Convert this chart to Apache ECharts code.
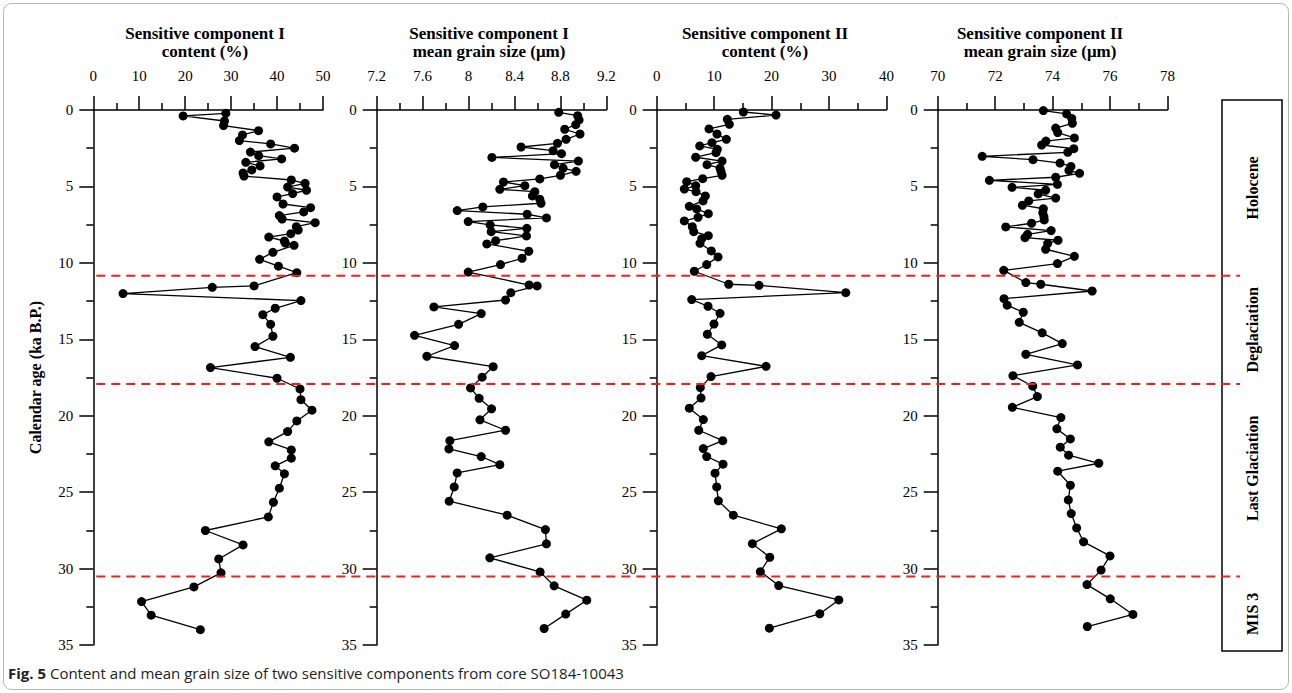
<!DOCTYPE html>
<html><head><meta charset="utf-8">
<script src="https://cdn.jsdelivr.net/npm/echarts@6/dist/echarts.min.js"></script>
<style>html,body{margin:0;padding:0;background:#fff}#c{width:1292px;height:693px}</style>
</head><body><div id="c"></div>
<script>
// ---- data (age in ka B.P., value) ----
const ages1=[0.22,0.39,0.72,1.02,1.35,1.63,2.0,2.22,2.5,2.75,2.99,3.2,3.42,3.66,3.92,4.12,4.32,4.58,4.8,5.04,5.25,5.47,5.69,6.15,6.39,6.67,6.91,7.13,7.37,7.63,7.85,8.09,8.31,8.57,8.7,8.85,9.31,9.77,10.22,10.64,11.51,11.6,12.01,12.47,12.97,13.39,14.02,14.8,15.48,16.18,16.85,17.55,18.25,18.95,19.64,20.34,21.04,21.71,22.24,22.78,23.28,23.8,24.74,25.66,26.62,27.51,28.45,29.37,30.28,31.2,32.16,33.05,34.0];
const vals1=[28.85,19.55,28.56,28.35,35.97,32.48,31.8,38.6,43.8,34.2,36.0,41.0,33.2,36.3,34.5,32.6,32.8,43.1,46.1,42.3,46.4,43.4,40.0,41.3,47.3,45.8,40.5,41.1,48.3,44.2,44.6,43.0,38.2,41.6,41.8,43.7,39.1,36.2,40.3,44.3,35.0,25.9,6.47,45.2,39.6,36.9,38.6,39.1,35.2,42.9,25.5,40.0,45.0,45.2,47.6,44.3,42.3,38.2,43.1,43.1,39.6,41.6,40.5,39.2,38.1,24.4,32.6,27.3,27.8,21.9,10.5,12.6,23.3];

const ages2=[0.15,0.37,0.65,0.96,1.26,1.57,1.92,2.18,2.42,2.66,2.86,3.1,3.34,3.58,3.81,4.01,4.27,4.51,4.71,4.95,5.19,5.34,5.62,5.84,6.1,6.34,6.58,6.82,7.06,7.3,7.52,7.74,7.96,8.24,8.55,8.76,9.24,9.7,10.11,10.6,11.45,11.51,11.95,12.43,12.88,13.32,14.02,14.74,15.41,16.11,16.79,17.48,18.18,18.86,19.55,20.27,20.95,21.63,22.17,22.67,23.2,23.74,24.66,25.59,26.51,27.45,28.38,29.3,30.22,31.13,32.07,32.98,33.92];
const vals2=[8.785,8.95,8.962,8.933,8.837,8.97,8.849,8.774,8.457,8.736,8.809,8.203,8.956,8.748,8.823,8.936,8.8,8.62,8.304,8.49,8.272,8.577,8.556,8.62,8.631,8.124,7.901,8.51,8.678,7.997,8.188,8.507,8.197,8.504,8.236,8.159,8.524,8.466,8.278,7.997,8.527,8.597,8.368,8.322,7.698,8.11,7.913,7.53,7.878,7.637,8.214,8.118,8.017,8.092,8.2,8.099,8.322,7.837,7.829,8.11,8.272,7.901,7.875,7.831,8.336,8.669,8.678,8.185,8.623,8.745,9.029,8.846,8.658];

const ages3=[0.13,0.33,0.61,0.94,1.24,1.57,1.92,2.14,2.35,2.57,2.79,3.09,3.34,3.58,3.81,4.03,4.27,4.49,4.69,4.95,5.17,5.34,5.62,5.95,6.3,6.47,6.78,7.02,7.26,7.63,7.96,8.22,8.42,8.72,9.22,9.61,10.11,10.55,11.4,11.47,11.95,12.4,12.84,13.3,14.0,14.67,15.37,16.07,16.77,17.44,18.16,18.84,19.51,20.25,20.95,21.63,22.15,22.67,23.17,23.76,24.66,25.57,26.51,27.4,28.37,29.26,30.2,31.11,32.05,32.96,33.9];
const vals3=[15.09,20.78,12.3,12.65,9.11,10.5,12.13,9.63,7.49,10.56,10.33,6.79,11.38,8.76,11.03,11.2,11.38,8.01,5.23,6.79,4.81,6.85,8.47,8.07,5.68,6.97,8.99,7.2,4.81,6.2,6.45,8.99,7.84,7.54,9.51,10.68,8.71,6.55,12.54,17.82,32.93,6.1,8.94,11.03,9.98,8.82,11.32,7.84,19.04,9.46,7.6,7.72,5.68,8.12,7.32,11.5,8.12,8.71,11.55,10.16,10.45,10.74,13.35,21.71,16.66,19.69,18.05,21.25,31.71,28.4,19.62];

const ages4=[0.04,0.26,0.55,0.87,1.18,1.48,1.83,2.03,2.29,2.53,2.77,3.03,3.25,3.47,3.69,3.95,4.14,4.4,4.6,4.86,5.06,5.25,5.49,5.76,5.95,6.23,6.46,6.72,6.98,7.19,7.41,7.65,7.89,8.13,8.35,8.52,8.74,9.11,9.57,10.05,10.49,11.29,11.4,11.84,12.34,12.77,13.23,13.89,14.58,15.28,15.98,16.68,17.38,18.07,18.75,19.45,20.12,20.86,21.52,22.06,22.58,23.11,23.63,24.55,25.51,26.4,27.34,28.25,29.17,30.1,31.05,31.98,33.0,33.79];
const vals4=[73.68,74.49,74.67,74.69,74.11,74.18,74.76,73.77,73.62,74.74,74.53,71.55,73.32,74.26,74.64,74.57,74.94,74.11,71.8,74.17,72.59,73.76,73.5,74.11,73.17,72.95,73.68,73.66,73.7,73.71,73.27,72.37,73.95,73.13,73.04,74.19,73.83,73.76,74.76,74.17,72.3,73.07,73.59,75.38,72.31,72.42,72.98,72.84,73.64,74.34,73.07,74.87,72.62,73.31,73.47,72.6,74.29,74.15,74.62,74.27,74.56,75.61,74.18,74.62,74.55,74.65,74.84,75.08,76.0,75.69,75.2,76.01,76.8,75.21];

const boundaryAges=[10.84,17.92,30.52];
const periodNames=['Holocene','Deglaciation','Last Glaciation','MIS 3'];
const panelTitles=['Sensitive component I\ncontent (%)','Sensitive component I\nmean grain size (\u03bcm)','Sensitive component II\ncontent (%)','Sensitive component II\nmean grain size (\u03bcm)'];
const xRanges=[[0,50,10],[7.2,9.2,0.4],[0,40,10],[70,78,2]];
const yRange=[0,35,5];
const yAxisTitle='Calendar age (ka B.P.)';
const captionBold='Fig. 5';
const captionText=' Content and mean grain size of two sensitive components from core SO184-10043';

// ---- layout / style ----
const SERIF='"Liberation Serif","Times New Roman",serif';
const gridLefts=[93.3,376.7,656.7,937.7];
const gridW=229.7, gridTop=110, gridH=535;
const titleX=[205,489,765,1040];
const labelShift=[0,0,-12,0];
const AX={color:'#000',width:1.5};

const chart=echarts.init(document.getElementById('c'),null,{renderer:'svg'});
const series=[[ages1,vals1],[ages2,vals2],[ages3,vals3],[ages4,vals4]];

const option={
  animation:false,
  backgroundColor:'#fff',
  grid:gridLefts.map(l=>({left:l,top:gridTop,width:gridW,height:gridH,containLabel:false})),
  xAxis:xRanges.map((r,i)=>({
    type:'value',gridIndex:i,position:'top',min:r[0],max:r[1],interval:r[2],
    axisLine:{show:true,onZero:false,lineStyle:AX},
    axisTick:{show:true,inside:false,length:14,lineStyle:AX},
    minorTick:{show:true,splitNumber:2,length:7,lineStyle:AX},
    splitLine:{show:false},minorSplitLine:{show:false},
    axisLabel:{margin:27,color:'#000',fontFamily:SERIF,fontSize:15,
      formatter:v=>String(+(+v).toFixed(1))}
  })),
  yAxis:gridLefts.map((l,i)=>({
    type:'value',gridIndex:i,inverse:true,min:yRange[0],max:yRange[1],interval:yRange[2],
    position:'left',
    name:i===0?yAxisTitle:'',nameLocation:'middle',nameGap:50,nameRotate:90,
    nameTextStyle:{fontFamily:SERIF,fontSize:16,fontWeight:'bold',color:'#000'},
    axisLine:{show:true,onZero:false,lineStyle:AX},
    axisTick:{show:true,inside:false,length:14,lineStyle:AX},
    minorTick:{show:true,splitNumber:2,length:7,lineStyle:AX},
    splitLine:{show:false},minorSplitLine:{show:false},
    axisLabel:{margin:20,color:'#000',fontFamily:SERIF,fontSize:15}
  })),
  series:series.map((s,i)=>({
    type:'line',xAxisIndex:i,yAxisIndex:i,
    data:s[0].map((a,k)=>[s[1][k],a]),
    symbol:'circle',symbolSize:9,showSymbol:true,
    lineStyle:{color:'#000',width:1.3},itemStyle:{color:'#000'},
    z:3
  }))
};
chart.setOption(option);

// ---- overlays positioned through the chart's own scales ----
const yPix=a=>chart.convertToPixel({yAxisIndex:0},a);
const bPix=boundaryAges.map(yPix);
const boxTop=yPix(-0.65), boxBottom=yPix(35.4);
const edges=[boxTop].concat(bPix,[boxBottom]);
const graphics=[];
graphics.push({type:'rect',shape:{x:3.5,y:3.5,width:1285,height:686,r:8},style:{fill:'none',stroke:'#b5b5b5',lineWidth:1},silent:true});
panelTitles.forEach((t,i)=>graphics.push({type:'text',x:titleX[i],y:24,style:{text:t,font:'bold 17px '+SERIF,fill:'#000',align:'center',verticalAlign:'top',lineHeight:18}}));
graphics.push({type:'rect',shape:{x:1222,y:boxTop,width:60,height:boxBottom-boxTop},style:{fill:'none',stroke:'#000',lineWidth:1.5}});
bPix.forEach(p=>graphics.push({type:'line',shape:{x1:gridLefts[0]+3,y1:p,x2:1240,y2:p},style:{stroke:'#f02020',lineWidth:2,lineDash:[9,6]},z:10}));
periodNames.forEach((n,i)=>{
  const cy=(edges[i]+edges[i+1])/2+labelShift[i];
  graphics.push({type:'text',x:1252,y:cy,rotation:Math.PI/2,style:{text:n,font:'bold 16px '+SERIF,fill:'#000',align:'center',verticalAlign:'middle'}});
});
graphics.push({type:'text',x:8,y:673,style:{text:'{b|'+captionBold+'}'+captionText,font:'15px "Open Sans"',fill:'#222',verticalAlign:'middle',rich:{b:{fontWeight:'bold',fontFamily:'Open Sans',fontSize:15,fill:'#222'}}}});
chart.setOption({graphic:graphics});
</script></body></html>
